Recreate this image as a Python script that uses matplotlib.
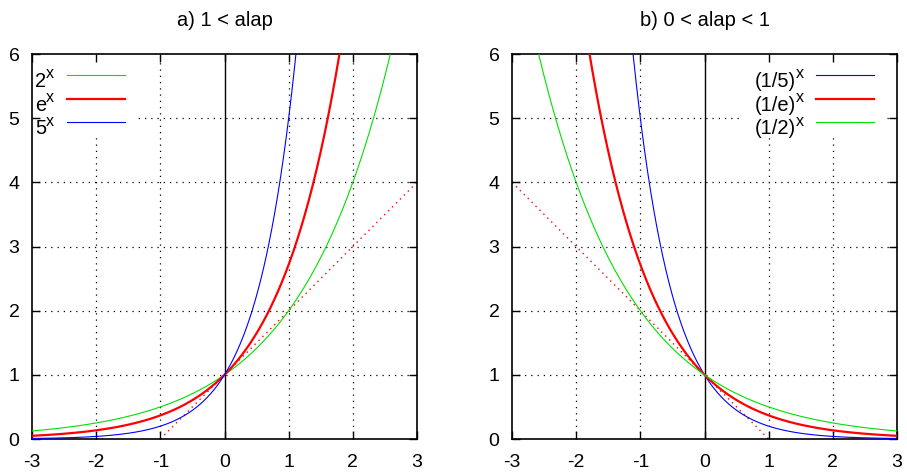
import numpy as np
import matplotlib
matplotlib.use("Agg")
import matplotlib.pyplot as plt
from matplotlib.patches import Rectangle
from matplotlib.transforms import offset_copy

plt.rcParams['font.family'] = ['Liberation Sans', 'DejaVu Sans']
plt.rcParams['axes.unicode_minus'] = False

# Panel a): bases greater than 1
titles = ["a) 1 < alap", "b) 0 < alap < 1"]
bases_a = [2.0, np.e, 5.0]
labels_a = ["2", "e", "5"]
colors_a = ["#00e000", "#ff0000", "#0000ff"]
widths_a = [0.8, 1.6, 0.8]

# Panel b): bases between 0 and 1
bases_b = [1 / 5.0, 1 / np.e, 1 / 2.0]
labels_b = ["(1/5)", "(1/e)", "(1/2)"]
colors_b = ["#0000ff", "#ff0000", "#00e000"]
widths_b = [0.8, 1.6, 0.8]

# Tangent lines of e^x and (1/e)^x at x = 0
tangent_a_x = [-1, 3]
tangent_a_y = [0, 4]
tangent_b_x = [-3, 1]
tangent_b_y = [4, 0]

xticks = [-3, -2, -1, 0, 1, 2, 3]
yticks = [0, 1, 2, 3, 4, 5, 6]

W, H = 907, 474
SIDE = 385.0  # axes size in pixels
fig = plt.figure(figsize=(W / 100, H / 100), dpi=100)
ax_a = fig.add_axes([32 / W, 1 - 439 / H, SIDE / W, SIDE / H])
ax_b = fig.add_axes([512 / W, 1 - 439 / H, SIDE / W, SIDE / H])
renderer = fig.canvas.get_renderer()

x = np.linspace(-3, 3, 1201)


def style(ax, title):
    ax.set_xlim(-3, 3)
    ax.set_ylim(0, 6)
    ax.set_xticks(xticks)
    ax.set_yticks(yticks)
    ax.tick_params(direction="in", length=6, width=1, top=True, right=True,
                   labelsize=14, colors="black")
    ax.tick_params(axis="x", pad=11)
    ax.tick_params(axis="y", pad=9)
    for s in ax.spines.values():
        s.set_linewidth(1.2)
    ax.set_axisbelow(False)
    # dotted grid drawn underneath the key background
    for v in xticks[1:-1]:
        if v == 0:
            ax.axvline(v, color="black", linewidth=1.0, zorder=0.6)
        else:
            ax.axvline(v, color="black", linestyle=(0, (1, 4)),
                       linewidth=0.9, zorder=0.5)
    for v in yticks[1:-1]:
        ax.axhline(v, color="black", linestyle=(0, (1, 4)),
                   linewidth=0.9, zorder=0.5)
    ax.set_title(title, fontsize=14.5, pad=20)


def ax_pt(px, py):
    """Axes fraction from pixel offsets measured from the axes' top-left."""
    return px / SIDE, 1 - py / SIDE


def key(ax, labels, colors, widths, align, text_x, line_x0, line_x1, rows,
        box):
    bx0, bx1, by1 = box
    ax.add_patch(Rectangle(ax_pt(bx0, by1), (bx1 - bx0) / SIDE, by1 / SIDE,
                           transform=ax.transAxes, facecolor="white",
                           edgecolor="none", zorder=1))
    for lab, c, w, ry in zip(labels, colors, widths, rows):
        (lx0, ly), (lx1, _) = ax_pt(line_x0, ry), ax_pt(line_x1, ry)
        ax.plot([lx0, lx1], [ly, ly], transform=ax.transAxes, color=c,
                linewidth=w, zorder=4, clip_on=False)
        tx, ty = ax_pt(text_x, ry + 12.5)
        base_tr = ax.transAxes
        if align == "left":
            t = ax.text(tx, ty, lab, transform=base_tr, ha="left",
                        va="baseline", fontsize=14.5, zorder=4)
            wdt = t.get_window_extent(renderer).width
            sup_tr = offset_copy(base_tr, fig=fig, x=wdt, y=9, units="dots")
            ax.text(tx, ty, "x", transform=sup_tr, ha="left", va="baseline",
                    fontsize=11.5, zorder=4)
        else:
            s = ax.text(tx, ty, "x", transform=offset_copy(
                base_tr, fig=fig, x=0, y=9, units="dots"), ha="right",
                va="baseline", fontsize=11.5, zorder=4)
            wdt = s.get_window_extent(renderer).width
            ax.text(tx, ty, lab, transform=offset_copy(
                base_tr, fig=fig, x=-wdt, y=0, units="dots"), ha="right",
                va="baseline", fontsize=14.5, zorder=4)


rows = [20.5, 44.5, 68.0]

style(ax_a, titles[0])
for b, c, w in zip(bases_a, colors_a, widths_a):
    ax_a.plot(x, np.power(b, x), color=c, linewidth=w, zorder=3)
ax_a.plot(tangent_a_x, tangent_a_y, color="#ff0000", linestyle=(0, (1, 3)),
          linewidth=1.0, zorder=2)
key(ax_a, labels_a, colors_a, widths_a, "left", 3, 35, 93, rows,
    (0, 104, 84))

style(ax_b, titles[1])
for b, c, w in zip(bases_b, colors_b, widths_b):
    ax_b.plot(x, np.power(b, x), color=c, linewidth=w, zorder=3)
ax_b.plot(tangent_b_x, tangent_b_y, color="#ff0000", linestyle=(0, (1, 3)),
          linewidth=1.0, zorder=2)
key(ax_b, labels_b, colors_b, widths_b, "right", 292, 304, 362, rows,
    (231, 373, 84))

fig.savefig("out.png", dpi=100)
